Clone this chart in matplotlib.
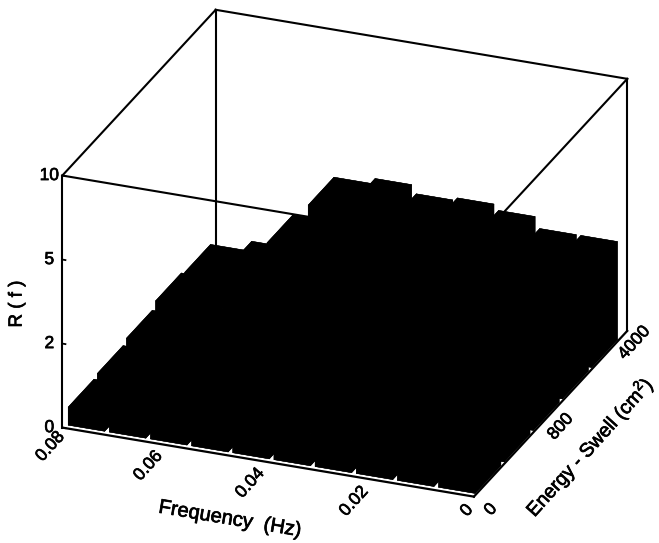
import matplotlib
matplotlib.use("Agg")
import matplotlib.pyplot as plt
import matplotlib.patheffects as pe
import numpy as np
from mpl_toolkits.mplot3d import proj3d

plt.rcParams['font.family'] = ['Liberation Sans', 'DejaVu Sans']
plt.rcParams['mathtext.fontset'] = 'custom'
plt.rcParams['mathtext.rm'] = 'Liberation Sans'
plt.rcParams['mathtext.default'] = 'regular'

# Data
freq_ticks = [0.08, 0.06, 0.04, 0.02, 0]
freq_labels = ['0.08', '0.06', '0.04', '0.02', '0']
energy_ticks = [0, 2.5, 5]
energy_labels = ['0', '800', '4000']
r_ticks = [0, 2, 5, 10]
r_labels = ['0', '2', '5', '10']

freq_left = [0.08, 0.072, 0.064, 0.056, 0.048, 0.04, 0.032, 0.024, 0.016, 0.008]
energy_bin = [0, 1, 2, 3, 4]

# R(f), one list per energy bin, front to back
r_row1 = [0.43, 0.6, 0.9, 1.3, 1.6, 1.7, 1.6, 1.5, 1.4, 1.3]
r_row2 = [0.48, 0.7, 1.0, 1.5, 1.8, 1.9, 1.8, 1.7, 1.6, 1.5]
r_row3 = [0.57, 0.75, 1.2, 1.8, 2.1, 2.2, 2.1, 2.0, 1.9, 1.8]
r_row4 = [0.71, 0.8, 1.4, 2.2, 2.5, 2.6, 2.5, 2.3, 2.2, 2.1]
r_row5 = [0.64, 0.88, 1.67, 3.1, 3.3, 3.0, 3.1, 2.9, 2.5, 2.5]
r_rows = [r_row1, r_row2, r_row3, r_row4, r_row5]


# the R axis is not linear: 0, 2, 5, 10 are evenly spaced
def zpos(r):
    return np.interp(r, r_ticks, [0, 1, 2, 3])


W, H = 659, 543
fig = plt.figure(figsize=(W / 100, H / 100), dpi=100)
side = 650
ax = fig.add_axes([11 / W, -44 / H, side / W, side / H], projection='3d', computed_zorder=False)
ax.set_proj_type('ortho')
ax.view_init(elev=25.2, azim=-68.5)
ax.set_box_aspect((443, 419, 279))
ax.set_axis_off()
ax.patch.set_alpha(0)

# frame behind the bars
xa, xb = 0.08, 0
ya, yb = 0, 5
zt = 3
frame = [
    ([xa, xa], [ya, ya], [0, zt]),
    ([xa, xa], [yb, yb], [0, zt]),
    ([xb, xb], [yb, yb], [0, zt]),
    ([xa, xb], [ya, ya], [zt, zt]),
    ([xa, xa], [ya, yb], [zt, zt]),
    ([xa, xb], [yb, yb], [zt, zt]),
    ([xb, xb], [ya, yb], [zt, zt]),
]
for fx, fy, fz in frame:
    ax.plot(fx, fy, fz, color='k', lw=1.5, zorder=1, solid_capstyle='projecting')

# bars
for r, row in zip(energy_bin, r_rows):
    for f, val in zip(freq_left, row):
        ax.bar3d(f - 0.0077, r * 0.95 + 0.09, 0, 0.0071, 0.84, zpos(val), color='k',
                 edgecolor='k', linewidth=0.3, shade=False, zorder=2)

# front edges of the floor
ax.plot([xa, xb], [ya, ya], [0, 0], color='k', lw=1.6, zorder=3)
ax.plot([xb, xb], [ya, yb], [0, 0], color='k', lw=1.6, zorder=3)

ax.set_xlim(xa, xb)
ax.set_ylim(ya, yb)
ax.set_zlim(0, zt)
ax.set_xticks([])
ax.set_yticks([])
ax.set_zticks([])

thick = [pe.withStroke(linewidth=0.5, foreground='k')]


def label3d(x, y, z, s, off, rot=0):
    px, py, _ = proj3d.proj_transform(x, y, z, ax.get_proj())
    ax.annotate(s, (px, py), xytext=(off[0] * 0.72, off[1] * 0.72), textcoords='offset points',
                fontsize=12.5, rotation=rot, rotation_mode='anchor', ha='center', va='center',
                path_effects=thick)


# R ticks
for t, lab in zip(r_ticks, r_labels):
    z = zpos(t)
    ax.plot([xa, xa - 0.0006], [ya, ya], [z, z], color='k', lw=1.3, zorder=3)
    label3d(xa, ya, z, lab, (-13, 0))

# frequency tick labels
freq_off = [(-12, -19), (-17, -21), (-18, -21), (-17, -22), (-7, -14)]
for t, lab, off in zip(freq_ticks, freq_labels, freq_off):
    label3d(t, ya, 0, lab, off, 48)

# energy tick labels
energy_off = [(17, -13), (10, -13), (7, -12)]
for t, lab, off in zip(energy_ticks, energy_labels, energy_off):
    label3d(xb, t, 0, lab, off, 48)

fig.text(230 / W, 1 - 519 / H, 'Frequency  (Hz)', fontsize=14.5, rotation=-9.5, ha='center', va='center',
         path_effects=thick)
fig.text(590 / W, 1 - 447 / H, 'Energy - Swell (cm$^2$)', fontsize=14, rotation=48, ha='center', va='center',
         path_effects=thick)
fig.text(17 / W, 1 - 304 / H, 'R ( f )', fontsize=13.5, rotation=90, ha='center', va='center',
         path_effects=thick)

fig.savefig('out.png', dpi=100)
